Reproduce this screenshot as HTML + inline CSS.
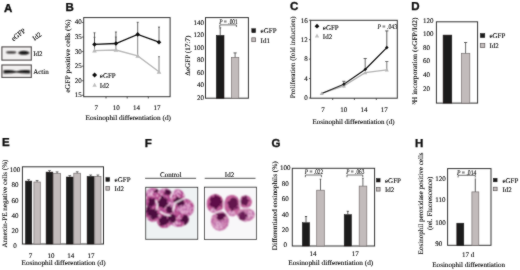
<!DOCTYPE html>
<html><head><meta charset="utf-8"><title>Figure</title><style>
html,body{margin:0;padding:0;background:#fff;width:520px;height:270px;overflow:hidden}
svg{display:block}
text{font-family:"Liberation Serif",serif;font-size:7px;fill:#000;stroke:#000;stroke-width:0.1px;text-rendering:geometricPrecision}
text.L{font-family:"Liberation Sans",sans-serif;font-weight:bold;font-size:11.5px;fill:#111;stroke:#111;stroke-width:0.35px}
.i{font-style:italic}
</style></head><body>
<svg width="520" height="270" viewBox="0 0 520 270" xmlns="http://www.w3.org/2000/svg">
<defs>
<filter id="bl" x="-20%" y="-20%" width="140%" height="140%"><feConvolveMatrix order="3" kernelMatrix="1 2 1 2 4 2 1 2 1" divisor="16" edgeMode="none"/></filter>
<filter id="soft" x="0" y="0" width="100%" height="100%" filterUnits="userSpaceOnUse"><feConvolveMatrix order="3" kernelMatrix="1 2 1 2 24 2 1 2 1" divisor="36" edgeMode="duplicate"/></filter>
<filter id="bl2" x="-20%" y="-20%" width="140%" height="140%"><feGaussianBlur stdDeviation="1.0"/></filter>
<filter id="bl3" x="-20%" y="-20%" width="140%" height="140%"><feGaussianBlur stdDeviation="0.9"/></filter>
<filter id="bl4" x="-20%" y="-20%" width="140%" height="140%"><feGaussianBlur stdDeviation="0.4"/></filter>
<filter id="bl5" x="-10%" y="-10%" width="120%" height="120%"><feConvolveMatrix order="3" kernelMatrix="1 2 1 2 4 2 1 2 1" divisor="16" edgeMode="none"/></filter>
<filter id="mot" x="0" y="0" width="100%" height="100%"><feTurbulence type="fractalNoise" baseFrequency="0.5" numOctaves="2" seed="7"/><feColorMatrix type="matrix" values="0 0 0 0 0.40  0 0 0 0 0.06  0 0 0 0 0.30  4.0 0 0 0 -1.7"/></filter>
<filter id="irr" x="-20%" y="-20%" width="140%" height="140%"><feTurbulence type="fractalNoise" baseFrequency="0.25" numOctaves="2" seed="3" result="t"/><feDisplacementMap in="SourceGraphic" in2="t" scale="5" xChannelSelector="R" yChannelSelector="G" result="d"/><feGaussianBlur in="d" stdDeviation="0.5"/></filter>
<filter id="irr2" x="-20%" y="-20%" width="140%" height="140%"><feTurbulence type="fractalNoise" baseFrequency="0.3" numOctaves="2" seed="9" result="t"/><feDisplacementMap in="SourceGraphic" in2="t" scale="4" xChannelSelector="R" yChannelSelector="G" result="d"/><feGaussianBlur in="d" stdDeviation="0.45"/></filter>
<filter id="motL" x="0" y="0" width="100%" height="100%"><feTurbulence type="fractalNoise" baseFrequency="0.4" numOctaves="2" seed="21"/><feColorMatrix type="matrix" values="0 0 0 0 0.92  0 0 0 0 0.66  0 0 0 0 0.80  3.5 0 0 0 -1.75"/></filter>
<filter id="mot2" x="0" y="0" width="100%" height="100%"><feTurbulence type="fractalNoise" baseFrequency="0.5" numOctaves="2" seed="11"/><feColorMatrix type="matrix" values="0 0 0 0 0.45  0 0 0 0 0.1  0 0 0 0 0.36  3.6 0 0 0 -1.5"/></filter>
</defs>
<rect width="520" height="270" fill="#fff"/>
<g filter="url(#soft)">
<text x="4.00" y="11.60" class="L">A</text>
<text x="65.50" y="10.50" class="L">B</text>
<text x="289.90" y="10.30" class="L">C</text>
<text x="411.20" y="9.80" class="L">D</text>
<text x="2.00" y="146.20" class="L">E</text>
<text x="144.70" y="146.50" class="L">F</text>
<text x="271.50" y="146.70" class="L">G</text>
<text x="415.10" y="146.50" class="L">H</text>
<text transform="translate(13.4,41.4) rotate(-38)" font-size="8.6">eGFP</text>
<text transform="translate(34.6,41.0) rotate(-37)" font-size="8">Id2</text>
<rect x="1.90" y="46.90" width="29.40" height="13.20" fill="#f1efef" stroke="#4a4646" stroke-width="1.1"/>
<g filter="url(#bl)">
<ellipse cx="11.2" cy="52.4" rx="5.2" ry="1.3" fill="#4a4646"/>
<ellipse cx="23.8" cy="52.8" rx="5.6" ry="2.0" fill="#141212"/>
</g>
<rect x="1.90" y="65.00" width="29.40" height="12.40" fill="#f1efef" stroke="#4a4646" stroke-width="1.1"/>
<g filter="url(#bl)">
<path d="M3.5 70.3 Q10 69.6 16.5 71.2 Q23 69.6 30 70.3 L30 73.4 Q23 73.8 16.5 72.6 Q10 73.8 3.5 73.4Z" fill="#141212"/>
</g>
<text x="33.20" y="56.20" font-size="7.6">Id2</text>
<text x="33.20" y="74.30" font-size="7.6">Actin</text>
<rect x="83.70" y="17.60" width="86.40" height="79.10" fill="none" stroke="#333" stroke-width="1"/>
<line x1="82.10" y1="22.50" x2="83.70" y2="22.50" stroke="#333" stroke-width="0.8"/>
<text x="81.80" y="24.40" text-anchor="end">40</text>
<line x1="82.10" y1="37.06" x2="83.70" y2="37.06" stroke="#333" stroke-width="0.8"/>
<text x="81.80" y="38.96" text-anchor="end">35</text>
<line x1="82.10" y1="51.62" x2="83.70" y2="51.62" stroke="#333" stroke-width="0.8"/>
<text x="81.80" y="53.52" text-anchor="end">30</text>
<line x1="82.10" y1="66.18" x2="83.70" y2="66.18" stroke="#333" stroke-width="0.8"/>
<text x="81.80" y="68.08" text-anchor="end">25</text>
<line x1="82.10" y1="80.74" x2="83.70" y2="80.74" stroke="#333" stroke-width="0.8"/>
<text x="81.80" y="82.64" text-anchor="end">20</text>
<line x1="82.10" y1="95.30" x2="83.70" y2="95.30" stroke="#333" stroke-width="0.8"/>
<text x="81.80" y="97.20" text-anchor="end">15</text>
<line x1="106.00" y1="96.70" x2="106.00" y2="98.50" stroke="#333" stroke-width="0.8"/>
<line x1="127.20" y1="96.70" x2="127.20" y2="98.50" stroke="#333" stroke-width="0.8"/>
<line x1="148.30" y1="96.70" x2="148.30" y2="98.50" stroke="#333" stroke-width="0.8"/>
<text x="96.20" y="110.10" text-anchor="middle">7</text>
<text x="116.20" y="110.10" text-anchor="middle">10</text>
<text x="136.60" y="110.10" text-anchor="middle">14</text>
<text x="157.00" y="110.10" text-anchor="middle">17</text>
<text x="85.5" y="119.9" textLength="85.5" lengthAdjust="spacingAndGlyphs">Eosinophil differentiation  (d)</text>
<text transform="translate(70.40,56.10) rotate(-90)" text-anchor="middle" font-size="7.7" textLength="73.5" lengthAdjust="spacingAndGlyphs">eGFP positive cells (%)</text>
<line x1="94.50" y1="37.30" x2="94.50" y2="50.60" stroke="#666" stroke-width="0.8"/>
<line x1="93.50" y1="37.30" x2="95.50" y2="37.30" stroke="#666" stroke-width="0.8"/>
<line x1="115.90" y1="37.00" x2="115.90" y2="50.00" stroke="#666" stroke-width="0.8"/>
<line x1="114.90" y1="37.00" x2="116.90" y2="37.00" stroke="#666" stroke-width="0.8"/>
<line x1="137.70" y1="34.40" x2="137.70" y2="55.90" stroke="#666" stroke-width="0.8"/>
<line x1="136.70" y1="34.40" x2="138.70" y2="34.40" stroke="#666" stroke-width="0.8"/>
<line x1="159.00" y1="56.70" x2="159.00" y2="71.80" stroke="#666" stroke-width="0.8"/>
<line x1="158.00" y1="56.70" x2="160.00" y2="56.70" stroke="#666" stroke-width="0.8"/>
<polyline points="94.5,50.6 115.9,50.0 137.7,55.9 159.0,71.8" fill="none" stroke="#b9b9b9" stroke-width="1.4"/>
<line x1="94.50" y1="32.80" x2="94.50" y2="44.40" stroke="#444" stroke-width="0.8"/>
<line x1="93.50" y1="32.80" x2="95.50" y2="32.80" stroke="#444" stroke-width="0.8"/>
<line x1="115.90" y1="32.00" x2="115.90" y2="43.50" stroke="#444" stroke-width="0.8"/>
<line x1="114.90" y1="32.00" x2="116.90" y2="32.00" stroke="#444" stroke-width="0.8"/>
<line x1="137.70" y1="22.30" x2="137.70" y2="34.40" stroke="#444" stroke-width="0.8"/>
<line x1="136.70" y1="22.30" x2="138.70" y2="22.30" stroke="#444" stroke-width="0.8"/>
<line x1="159.00" y1="27.10" x2="159.00" y2="42.20" stroke="#444" stroke-width="0.8"/>
<line x1="158.00" y1="27.10" x2="160.00" y2="27.10" stroke="#444" stroke-width="0.8"/>
<polyline points="94.5,44.4 115.9,43.5 137.7,34.4 159.0,42.2" fill="none" stroke="#111" stroke-width="1.3"/>
<path d="M94.50 48.30L96.80 52.44L92.20 52.44Z" fill="#b8b8b8"/>
<path d="M115.90 47.70L118.20 51.84L113.60 51.84Z" fill="#b8b8b8"/>
<path d="M137.70 53.60L140.00 57.74L135.40 57.74Z" fill="#b8b8b8"/>
<path d="M159.00 69.50L161.30 73.64L156.70 73.64Z" fill="#b8b8b8"/>
<path d="M94.50 42.10L96.80 44.40L94.50 46.70L92.20 44.40Z" fill="#111"/>
<path d="M115.90 41.20L118.20 43.50L115.90 45.80L113.60 43.50Z" fill="#111"/>
<path d="M137.70 32.10L140.00 34.40L137.70 36.70L135.40 34.40Z" fill="#111"/>
<path d="M159.00 39.90L161.30 42.20L159.00 44.50L156.70 42.20Z" fill="#111"/>
<path d="M94.60 72.50L97.10 75.00L94.60 77.50L92.10 75.00Z" fill="#111"/>
<text x="99.80" y="77.60" font-size="7.5">eGFP</text>
<path d="M94.60 82.70L96.80 86.66L92.40 86.66Z" fill="#c0c0c0"/>
<text x="99.80" y="88.00" font-size="7.5">Id2</text>
<rect x="205.50" y="17.60" width="42.90" height="80.60" fill="none" stroke="#333" stroke-width="1"/>
<text x="204.00" y="25.00" text-anchor="end">140</text>
<text x="204.00" y="37.42" text-anchor="end">120</text>
<text x="204.00" y="49.83" text-anchor="end">100</text>
<text x="204.00" y="62.25" text-anchor="end">80</text>
<text x="204.00" y="74.67" text-anchor="end">60</text>
<text x="204.00" y="87.08" text-anchor="end">40</text>
<text x="204.00" y="99.50" text-anchor="end">20</text>
<rect x="216.40" y="35.50" width="7.60" height="62.70" fill="#1c1a1a" stroke="#1c1a1a" stroke-width="0.6"/>
<line x1="220.20" y1="27.80" x2="220.20" y2="35.50" stroke="#333" stroke-width="0.8"/>
<line x1="219.20" y1="27.80" x2="221.20" y2="27.80" stroke="#333" stroke-width="0.8"/>
<rect x="231.40" y="57.40" width="7.40" height="40.80" fill="#c2bbbb" stroke="#777070" stroke-width="0.7"/>
<line x1="235.10" y1="52.90" x2="235.10" y2="57.40" stroke="#444" stroke-width="0.8"/>
<line x1="233.50" y1="52.90" x2="236.70" y2="52.90" stroke="#444" stroke-width="0.8"/>
<text x="219.2" y="24.1" textLength="18.6" lengthAdjust="spacingAndGlyphs"><tspan class="i">P</tspan> = .001</text>
<path d="M219.8 27.0 V24.9 H236.4 V27.0" fill="none" stroke="#333" stroke-width="0.7"/>
<text transform="translate(189.80,55.70) rotate(-90)" text-anchor="middle" font-size="7" textLength="40" lengthAdjust="spacingAndGlyphs">ΔeGFP (17:7)</text>
<rect x="251.80" y="28.70" width="3.80" height="4.00" fill="#1c1a1a" stroke="#1c1a1a" stroke-width="0.5"/>
<text x="260.60" y="32.70">eGFP</text>
<rect x="251.80" y="37.80" width="3.80" height="3.90" fill="#c2bbbb" stroke="#5a5555" stroke-width="0.7"/>
<text x="260.60" y="42.60">Id1</text>
<rect x="310.60" y="20.30" width="86.70" height="77.90" fill="none" stroke="#333" stroke-width="1"/>
<line x1="309.00" y1="20.20" x2="310.60" y2="20.20" stroke="#333" stroke-width="0.8"/>
<text x="307.80" y="22.50" text-anchor="end">16</text>
<line x1="309.00" y1="39.65" x2="310.60" y2="39.65" stroke="#333" stroke-width="0.8"/>
<text x="307.80" y="41.95" text-anchor="end">12</text>
<line x1="309.00" y1="59.10" x2="310.60" y2="59.10" stroke="#333" stroke-width="0.8"/>
<text x="307.80" y="61.40" text-anchor="end">8</text>
<line x1="309.00" y1="78.55" x2="310.60" y2="78.55" stroke="#333" stroke-width="0.8"/>
<text x="307.80" y="80.85" text-anchor="end">4</text>
<line x1="309.00" y1="98.00" x2="310.60" y2="98.00" stroke="#333" stroke-width="0.8"/>
<text x="307.80" y="100.30" text-anchor="end">0</text>
<line x1="332.70" y1="98.20" x2="332.70" y2="100.00" stroke="#333" stroke-width="0.8"/>
<line x1="354.40" y1="98.20" x2="354.40" y2="100.00" stroke="#333" stroke-width="0.8"/>
<line x1="376.30" y1="98.20" x2="376.30" y2="100.00" stroke="#333" stroke-width="0.8"/>
<text x="323.10" y="112.10" text-anchor="middle">7</text>
<text x="343.80" y="112.10" text-anchor="middle">10</text>
<text x="364.00" y="112.10" text-anchor="middle">14</text>
<text x="384.20" y="112.10" text-anchor="middle">17</text>
<text x="312.5" y="123.6" textLength="82" lengthAdjust="spacingAndGlyphs">Eosinophil differentiation (d)</text>
<text transform="translate(295.30,57.30) rotate(-90)" text-anchor="middle" font-size="7" textLength="82" lengthAdjust="spacingAndGlyphs">Proliferation (fold induction)</text>
<line x1="386.80" y1="61.50" x2="386.80" y2="69.80" stroke="#555" stroke-width="0.8"/>
<line x1="385.20" y1="61.50" x2="388.40" y2="61.50" stroke="#555" stroke-width="0.8"/>
<line x1="343.90" y1="81.30" x2="343.90" y2="87.30" stroke="#444" stroke-width="0.8"/>
<line x1="342.30" y1="81.30" x2="345.50" y2="81.30" stroke="#444" stroke-width="0.8"/>
<line x1="365.20" y1="58.50" x2="365.20" y2="69.50" stroke="#444" stroke-width="0.8"/>
<line x1="363.60" y1="58.50" x2="366.80" y2="58.50" stroke="#444" stroke-width="0.8"/>
<line x1="386.80" y1="30.90" x2="386.80" y2="47.60" stroke="#333" stroke-width="0.8"/>
<line x1="385.20" y1="30.90" x2="388.40" y2="30.90" stroke="#333" stroke-width="0.8"/>
<polyline points="321.7,93.5 343.9,85.8 365.2,72.7 386.8,69.8" fill="none" stroke="#b4b4b4" stroke-width="1.3"/>
<polyline points="321.7,93.5 343.9,84.3 365.2,69.5 386.8,47.6" fill="none" stroke="#111" stroke-width="1.3"/>
<path d="M321.70 91.50L323.70 95.10L319.70 95.10Z" fill="#b4b4b4"/>
<path d="M343.90 83.80L345.90 87.40L341.90 87.40Z" fill="#b4b4b4"/>
<path d="M365.20 70.70L367.20 74.30L363.20 74.30Z" fill="#b4b4b4"/>
<path d="M386.80 67.80L388.80 71.40L384.80 71.40Z" fill="#b4b4b4"/>
<path d="M343.90 82.50L345.70 84.30L343.90 86.10L342.10 84.30Z" fill="#111"/>
<path d="M365.20 67.70L367.00 69.50L365.20 71.30L363.40 69.50Z" fill="#111"/>
<path d="M386.80 45.80L388.60 47.60L386.80 49.40L385.00 47.60Z" fill="#111"/>
<path d="M317.00 23.80L319.40 26.20L317.00 28.60L314.60 26.20Z" fill="#111"/>
<text x="322.80" y="29.50" font-size="7.5">eGFP</text>
<path d="M317.00 33.60L319.20 37.56L314.80 37.56Z" fill="#c0c0c0"/>
<text x="322.80" y="38.90" font-size="7.5">Id2</text>
<text x="377.4" y="28.8" textLength="19.6" lengthAdjust="spacingAndGlyphs"><tspan class="i">P</tspan> = .043</text>
<rect x="436.40" y="21.80" width="41.20" height="81.30" fill="none" stroke="#333" stroke-width="1"/>
<text x="423.00" y="22.60">120</text>
<text x="423.00" y="36.20">100</text>
<text x="423.00" y="49.50">80</text>
<text x="423.00" y="62.90">60</text>
<text x="423.00" y="76.70">40</text>
<text x="423.00" y="91.30">20</text>
<rect x="443.10" y="35.10" width="8.70" height="68.00" fill="#1c1a1a" stroke="#1c1a1a" stroke-width="0.5"/>
<rect x="461.40" y="53.30" width="8.40" height="49.80" fill="#c2bbbb" stroke="#777070" stroke-width="0.7"/>
<line x1="465.60" y1="42.50" x2="465.60" y2="53.30" stroke="#444" stroke-width="0.8"/>
<line x1="464.00" y1="42.50" x2="467.20" y2="42.50" stroke="#444" stroke-width="0.8"/>
<text transform="translate(416.60,60.90) rotate(-90)" text-anchor="middle" font-size="7" textLength="87" lengthAdjust="spacingAndGlyphs">³H incorporation (eGFP/Id2)</text>
<rect x="480.30" y="33.50" width="4.50" height="4.10" fill="#1c1a1a" stroke="#1c1a1a" stroke-width="0.5"/>
<text x="489.40" y="38.20">eGFP</text>
<rect x="480.30" y="43.50" width="4.50" height="4.10" fill="#c2bbbb" stroke="#5a5555" stroke-width="0.7"/>
<text x="489.40" y="48.00">Id2</text>
<rect x="22.40" y="166.80" width="81.10" height="77.20" fill="none" stroke="#333" stroke-width="1"/>
<text x="14.90" y="171.50" text-anchor="middle">100</text>
<text x="14.90" y="187.10" text-anchor="middle">80</text>
<text x="14.90" y="202.50" text-anchor="middle">60</text>
<text x="14.90" y="217.60" text-anchor="middle">40</text>
<text x="14.90" y="233.10" text-anchor="middle">20</text>
<text x="14.90" y="248.30" text-anchor="middle">0</text>
<rect x="25.40" y="181.10" width="6.40" height="62.90" fill="#1c1a1a" stroke="#1c1a1a" stroke-width="0.5"/>
<line x1="28.60" y1="179.70" x2="28.60" y2="181.10" stroke="#333" stroke-width="0.7"/>
<line x1="27.20" y1="179.70" x2="30.00" y2="179.70" stroke="#333" stroke-width="0.7"/>
<rect x="33.90" y="182.00" width="6.40" height="62.00" fill="#c2bbbb" stroke="#777070" stroke-width="0.7"/>
<line x1="37.10" y1="180.60" x2="37.10" y2="182.00" stroke="#333" stroke-width="0.7"/>
<line x1="35.70" y1="180.60" x2="38.50" y2="180.60" stroke="#333" stroke-width="0.7"/>
<rect x="46.10" y="172.10" width="6.80" height="71.90" fill="#1c1a1a" stroke="#1c1a1a" stroke-width="0.5"/>
<line x1="49.50" y1="170.70" x2="49.50" y2="172.10" stroke="#333" stroke-width="0.7"/>
<line x1="48.10" y1="170.70" x2="50.90" y2="170.70" stroke="#333" stroke-width="0.7"/>
<rect x="53.60" y="173.30" width="7.00" height="70.70" fill="#c2bbbb" stroke="#777070" stroke-width="0.7"/>
<line x1="57.10" y1="171.90" x2="57.10" y2="173.30" stroke="#333" stroke-width="0.7"/>
<line x1="55.70" y1="171.90" x2="58.50" y2="171.90" stroke="#333" stroke-width="0.7"/>
<rect x="66.30" y="177.00" width="7.00" height="67.00" fill="#1c1a1a" stroke="#1c1a1a" stroke-width="0.5"/>
<line x1="69.80" y1="175.60" x2="69.80" y2="177.00" stroke="#333" stroke-width="0.7"/>
<line x1="68.40" y1="175.60" x2="71.20" y2="175.60" stroke="#333" stroke-width="0.7"/>
<rect x="73.80" y="173.20" width="6.80" height="70.80" fill="#c2bbbb" stroke="#777070" stroke-width="0.7"/>
<line x1="77.20" y1="171.80" x2="77.20" y2="173.20" stroke="#333" stroke-width="0.7"/>
<line x1="75.80" y1="171.80" x2="78.60" y2="171.80" stroke="#333" stroke-width="0.7"/>
<rect x="87.10" y="176.40" width="7.10" height="67.60" fill="#1c1a1a" stroke="#1c1a1a" stroke-width="0.5"/>
<line x1="90.65" y1="175.00" x2="90.65" y2="176.40" stroke="#333" stroke-width="0.7"/>
<line x1="89.25" y1="175.00" x2="92.05" y2="175.00" stroke="#333" stroke-width="0.7"/>
<rect x="94.80" y="176.40" width="6.20" height="67.60" fill="#c2bbbb" stroke="#777070" stroke-width="0.7"/>
<line x1="97.90" y1="175.00" x2="97.90" y2="176.40" stroke="#333" stroke-width="0.7"/>
<line x1="96.50" y1="175.00" x2="99.30" y2="175.00" stroke="#333" stroke-width="0.7"/>
<text x="30.50" y="257.50" text-anchor="middle">7</text>
<text x="51.00" y="257.50" text-anchor="middle">10</text>
<text x="70.80" y="257.50" text-anchor="middle">14</text>
<text x="90.90" y="257.50" text-anchor="middle">17</text>
<text x="21.6" y="265.4" textLength="84" lengthAdjust="spacingAndGlyphs">Eosinophil differentiation  (d)</text>
<text transform="translate(7.20,203.60) rotate(-90)" text-anchor="middle" font-size="7" textLength="88" lengthAdjust="spacingAndGlyphs">Annexin-PE negative cells (%)</text>
<rect x="105.90" y="177.60" width="3.70" height="3.80" fill="#1c1a1a" stroke="#1c1a1a" stroke-width="0.5"/>
<text x="114.60" y="181.70">eGFP</text>
<rect x="105.90" y="186.40" width="3.70" height="3.80" fill="#c2bbbb" stroke="#5a5555" stroke-width="0.7"/>
<text x="114.60" y="190.90">Id2</text>
<text x="170.80" y="176.50" text-anchor="middle">Control</text>
<line x1="145.10" y1="178.30" x2="196.10" y2="178.30" stroke="#444" stroke-width="0.9"/>
<text x="229.50" y="176.50" text-anchor="middle">Id2</text>
<line x1="204.70" y1="178.30" x2="255.50" y2="178.30" stroke="#444" stroke-width="0.9"/>
<clipPath id="cc1"><ellipse cx="7.2" cy="10.0" rx="8.2" ry="9.6"/><ellipse cx="19.0" cy="9.5" rx="7.8" ry="8.6"/><ellipse cx="31.5" cy="9.5" rx="7.4" ry="7.6"/><ellipse cx="38.5" cy="20.5" rx="10.0" ry="9.4"/><ellipse cx="20.2" cy="22.4" rx="10.0" ry="9.4"/><ellipse cx="7.0" cy="25.0" rx="7.8" ry="9.6"/><ellipse cx="18.6" cy="33.2" rx="7.6" ry="7.6"/><ellipse cx="33.0" cy="31.5" rx="10.4" ry="8.2"/><ellipse cx="13" cy="17" rx="6" ry="6"/><ellipse cx="27" cy="18" rx="6" ry="6"/><ellipse cx="3" cy="18" rx="3.5" ry="9"/></clipPath>
<svg x="145.7" y="187.3" width="52" height="52" viewBox="0 0 52 52" overflow="hidden">
<rect width="52" height="52" fill="#eef2f3"/>
<g filter="url(#bl5)">
<g clip-path="url(#cc1)">
<rect width="52" height="52" fill="#b84c8c"/>
<ellipse cx="39" cy="21" rx="7" ry="5.5" fill="#dc9cc8"/>
<ellipse cx="4" cy="5" rx="3.5" ry="4" fill="#dc9cc8"/>
<ellipse cx="26" cy="18" rx="3.5" ry="4" fill="#dc9cc8"/>
<ellipse cx="31" cy="5" rx="4" ry="3" fill="#dc9cc8"/>
<ellipse cx="44" cy="30" rx="4" ry="3.5" fill="#dc9cc8"/>
<ellipse cx="8" cy="36" rx="3" ry="2" fill="#dc9cc8"/>
<ellipse cx="29" cy="37" rx="3" ry="2.5" fill="#dc9cc8"/>
<ellipse cx="15" cy="2.5" rx="4" ry="2" fill="#dc9cc8"/>
<rect width="52" height="52" filter="url(#mot)"/>
<rect width="52" height="52" filter="url(#motL)"/>
<g filter="url(#irr)">
<ellipse cx="5.7" cy="14.8" rx="3.8" ry="4.6" fill="#4e0c40"/>
<ellipse cx="16.8" cy="14.8" rx="4.8" ry="6.2" fill="#4e0c40"/>
<ellipse cx="33.5" cy="14.5" rx="5.0" ry="5.0" fill="#4e0c40"/>
<ellipse cx="7.6" cy="26.8" rx="4.8" ry="5.0" fill="#4e0c40"/>
<ellipse cx="18.4" cy="33.2" rx="5.2" ry="5.0" fill="#4e0c40"/>
<ellipse cx="26.8" cy="31.2" rx="3.6" ry="4.6" fill="#4e0c40"/>
<ellipse cx="39.6" cy="32.4" rx="3.6" ry="5.0" fill="#4e0c40"/>
<ellipse cx="22.5" cy="5" rx="3.8" ry="3.0" fill="#4e0c40"/>
<ellipse cx="11" cy="4" rx="2.8" ry="2.4" fill="#4e0c40"/>
<ellipse cx="24" cy="22" rx="3.4" ry="4.0" fill="#4e0c40"/>
<ellipse cx="3" cy="22" rx="2" ry="3" fill="#4e0c40"/>
</g>
</g>
<g fill="none" stroke="#fbf6fa" stroke-width="1.3" stroke-linecap="round">
<path d="M28.2 2 Q26.5 6 25 10"/>
<path d="M38.5 11 Q33 14 29.5 15.5 Q28 19 27.8 22.5"/>
<path d="M10.5 13.5 Q12.5 17.5 11.2 22"/>
<path d="M14.5 24.5 Q18.5 27.5 24.5 28"/>
</g>
</g>
</svg>
<rect x="145.70" y="187.30" width="52.00" height="52.00" fill="none" stroke="#333" stroke-width="0.9"/>
<clipPath id="cc2"><ellipse cx="10.8" cy="16.5" rx="8.8" ry="9.8"/><ellipse cx="27.6" cy="18.4" rx="8.6" ry="10.8"/><ellipse cx="41" cy="14.6" rx="6.6" ry="6.6"/><ellipse cx="15.4" cy="33.8" rx="9.2" ry="10.0"/><ellipse cx="41.5" cy="27.6" rx="9.0" ry="7.0"/></clipPath>
<svg x="204.5" y="187.2" width="52" height="52" viewBox="0 0 52 52" overflow="hidden">
<rect width="52" height="52" fill="#f8f7f9"/>
<g filter="url(#bl5)">
<g clip-path="url(#cc2)">
<ellipse cx="10.8" cy="16.5" rx="8.8" ry="9.8" fill="#c45a92"/>
<ellipse cx="27.6" cy="18.4" rx="8.6" ry="10.8" fill="#c86498"/>
<ellipse cx="41" cy="14.6" rx="6.6" ry="6.6" fill="#ca6a9c"/>
<ellipse cx="15.4" cy="33.8" rx="9.2" ry="10.0" fill="#d28ab2"/>
<ellipse cx="41.5" cy="27.6" rx="9.0" ry="7.0" fill="#d696b8"/>
<ellipse cx="14" cy="38" rx="5" ry="4" fill="#e2b0d0"/>
<ellipse cx="46" cy="27" rx="3" ry="3.5" fill="#e2b0d0"/>
<ellipse cx="9" cy="23" rx="3" ry="2" fill="#e2b0d0"/>
<ellipse cx="27" cy="26" rx="4" ry="2.5" fill="#e2b0d0"/>
<rect width="52" height="52" filter="url(#mot2)" opacity="0.8"/>
<g filter="url(#irr2)">
<ellipse cx="11" cy="15" rx="6.2" ry="6.6" fill="#5e1048"/>
<ellipse cx="28.6" cy="16.6" rx="5.2" ry="6.2" fill="#64124e"/>
<ellipse cx="40" cy="14" rx="4.2" ry="4.7" fill="#641250"/>
<ellipse cx="16.6" cy="29.1" rx="4.9" ry="4.0" fill="#5a1046"/>
<ellipse cx="38.6" cy="29.1" rx="4.4" ry="4.1" fill="#6a1a56"/>
</g>
</g>
<g fill="none" stroke="#faf6fa" stroke-width="1.1" stroke-linecap="round">
<path d="M19.3 8.5 L19.4 22.2 L7.8 27"/>
<path d="M19.4 22.2 L24.4 29.7"/>
<path d="M35.4 9.5 Q35.2 14 35.6 19.5"/>
<path d="M36 21 Q41 21 47 20.5"/>
</g>
</g>
</svg>
<rect x="204.50" y="187.20" width="51.90" height="52.20" fill="none" stroke="#333" stroke-width="0.9"/>
<rect x="292.30" y="168.30" width="82.30" height="77.70" fill="none" stroke="#333" stroke-width="1"/>
<text x="285.20" y="170.30" text-anchor="middle">100</text>
<text x="285.20" y="185.70" text-anchor="middle">80</text>
<text x="285.20" y="200.90" text-anchor="middle">60</text>
<text x="285.20" y="216.80" text-anchor="middle">40</text>
<text x="285.20" y="231.80" text-anchor="middle">20</text>
<text x="285.20" y="246.90" text-anchor="middle">0</text>
<rect x="302.30" y="222.70" width="7.30" height="23.30" fill="#1c1a1a" stroke="#1c1a1a" stroke-width="0.5"/>
<line x1="306.00" y1="216.50" x2="306.00" y2="222.70" stroke="#333" stroke-width="0.8"/>
<line x1="304.90" y1="216.50" x2="307.10" y2="216.50" stroke="#333" stroke-width="0.8"/>
<rect x="316.70" y="190.20" width="7.60" height="55.80" fill="#c2bbbb" stroke="#777070" stroke-width="0.7"/>
<line x1="320.50" y1="179.20" x2="320.50" y2="190.20" stroke="#444" stroke-width="0.8"/>
<line x1="319.70" y1="179.20" x2="321.30" y2="179.20" stroke="#444" stroke-width="0.8"/>
<rect x="344.20" y="214.60" width="7.30" height="31.40" fill="#1c1a1a" stroke="#1c1a1a" stroke-width="0.5"/>
<line x1="347.80" y1="211.30" x2="347.80" y2="214.60" stroke="#333" stroke-width="0.8"/>
<line x1="346.70" y1="211.30" x2="348.90" y2="211.30" stroke="#333" stroke-width="0.8"/>
<rect x="359.20" y="186.10" width="7.60" height="59.90" fill="#c2bbbb" stroke="#777070" stroke-width="0.7"/>
<line x1="362.90" y1="178.30" x2="362.90" y2="186.10" stroke="#444" stroke-width="0.8"/>
<line x1="362.10" y1="178.30" x2="363.70" y2="178.30" stroke="#444" stroke-width="0.8"/>
<text x="304.8" y="173.9" textLength="18.4" lengthAdjust="spacingAndGlyphs"><tspan class="i">P</tspan> = .022</text>
<path d="M305.4 177.2 V175.0 H321.4 V177.2" fill="none" stroke="#333" stroke-width="0.7"/>
<text x="346.3" y="173.9" textLength="18.0" lengthAdjust="spacingAndGlyphs"><tspan class="i">P</tspan> = .063</text>
<path d="M347.0 177.2 V175.0 H362.8 V177.2" fill="none" stroke="#333" stroke-width="0.7"/>
<text x="312.90" y="256.00" text-anchor="middle">14</text>
<text x="355.20" y="256.00" text-anchor="middle">17</text>
<text x="288.3" y="264.8" textLength="85" lengthAdjust="spacingAndGlyphs">Eosinophil differentiation  (d)</text>
<text transform="translate(277.40,205.70) rotate(-90)" text-anchor="middle" font-size="7" textLength="89" lengthAdjust="spacingAndGlyphs">Differentiated eosinophils (%)</text>
<rect x="376.40" y="178.50" width="3.70" height="3.50" fill="#1c1a1a" stroke="#1c1a1a" stroke-width="0.5"/>
<text x="385.00" y="182.80">eGFP</text>
<rect x="376.40" y="187.60" width="3.70" height="3.50" fill="#c2bbbb" stroke="#5a5555" stroke-width="0.7"/>
<text x="385.00" y="191.80">Id2</text>
<rect x="447.60" y="168.60" width="43.40" height="76.70" fill="none" stroke="#333" stroke-width="1"/>
<text x="435.20" y="180.70">120</text>
<text x="435.20" y="202.30">110</text>
<text x="435.20" y="224.60">100</text>
<text x="435.20" y="246.40">90</text>
<rect x="456.80" y="223.20" width="7.00" height="22.10" fill="#1c1a1a" stroke="#1c1a1a" stroke-width="0.5"/>
<rect x="471.90" y="191.90" width="6.90" height="53.40" fill="#c2bbbb" stroke="#777070" stroke-width="0.7"/>
<line x1="475.30" y1="178.40" x2="475.30" y2="191.90" stroke="#333" stroke-width="0.8"/>
<text x="457.0" y="174.9" textLength="19.3" lengthAdjust="spacingAndGlyphs"><tspan class="i">P</tspan> = .014</text>
<path d="M458.1 177.5 V175.3 H475.3 V177.5" fill="none" stroke="#333" stroke-width="0.7"/>
<text x="468.10" y="256.50" text-anchor="middle">17 d</text>
<text x="432.3" y="266.8" textLength="72.7" lengthAdjust="spacingAndGlyphs">Eosinophil differentiation</text>
<text transform="translate(422.70,203.40) rotate(-90)" text-anchor="middle" font-size="7" textLength="102" lengthAdjust="spacingAndGlyphs">Eosinophil peroxidase positive cells</text>
<text transform="translate(431.50,203.30) rotate(-90)" text-anchor="middle" font-size="7" textLength="53.5" lengthAdjust="spacingAndGlyphs">(rel. Fluorescence)</text>
<rect x="493.30" y="178.30" width="3.80" height="3.50" fill="#1c1a1a" stroke="#1c1a1a" stroke-width="0.5"/>
<text x="502.40" y="182.60">eGFP</text>
<rect x="493.30" y="187.20" width="3.80" height="3.50" fill="#c2bbbb" stroke="#5a5555" stroke-width="0.7"/>
<text x="502.40" y="192.00">Id2</text>
</g>
</svg>
</body></html>
